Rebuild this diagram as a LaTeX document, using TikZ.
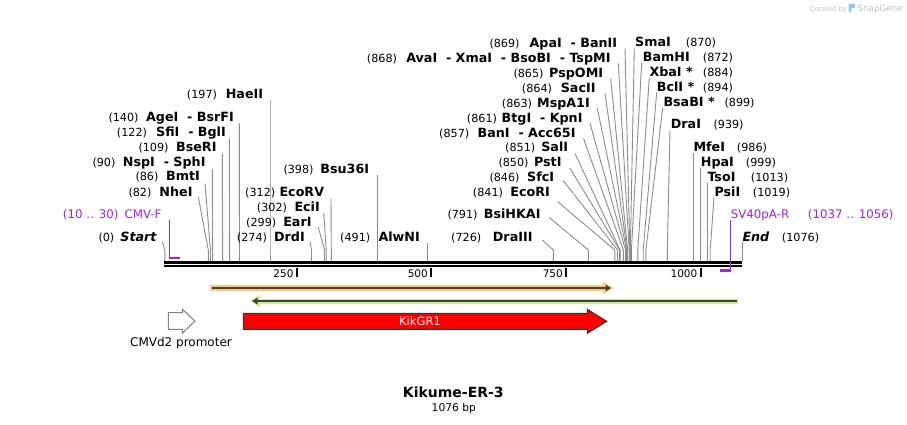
\documentclass[tikz,border=0pt]{standalone}
\usepackage{fontspec}
\setmainfont{DejaVu Sans}
\definecolor{cutgray}{RGB}{140,140,140}
\definecolor{primer}{RGB}{161,33,238}
\definecolor{featorange}{RGB}{255,200,120}
\definecolor{featgreen}{RGB}{200,240,140}
\definecolor{featline}{RGB}{64,64,64}
\definecolor{logogray}{RGB}{195,195,195}
\definecolor{logoblue}{RGB}{150,200,235}
\tikzset{
  numf/.style={inner sep=0pt, font=\fontsize{11.2}{13}\selectfont},
  enzf/.style={inner sep=0pt, font=\fontsize{12.7}{14}\selectfont\bfseries},
  primf/.style={inner sep=0pt, text=primer, font=\fontsize{11.8}{14}\selectfont},
  tickf/.style={inner sep=0pt, font=\fontsize{10.5}{12}\selectfont},
  cutl/.style={draw=cutgray, line width=0.9pt},
  tickl/.style={draw=black, line width=2pt},
  priml/.style={draw=primer, line width=1.3pt},
}
% left-labelled site: id, baseline y, number start x, number, name end x, name
\newcommand\labL[6]{%
  \node[numf, anchor=base west] (#1n) at (#3,#2) {#4};
  \node[enzf, anchor=base east] (#1) at (#5,#2) {#6};}
% right-labelled site: id, baseline y, name start x, name, number start x, number
\newcommand\labR[6]{%
  \node[enzf, anchor=base west] (#1) at (#3,#2) {#4};
  \node[numf, anchor=base west] (#1n) at (#5,#2) {#6};}
% cut line: id, top x, top y, cut x
\newcommand\cutln[4]{%
  \coordinate (#1t) at (#2,#3);
  \coordinate (#1k) at (#4,250);
  \coordinate (#1c) at (#4,261);
  \draw[cutl] (#1t) -- (#1k) -- (#1c);}
\begin{document}
\begin{tikzpicture}[x=1pt,y=-1pt]
\fill[white] (0,0) rectangle (907,424);
\useasboundingbox (0,0) rectangle (907,424);

% SnapGene credit
\node[inner sep=0pt, anchor=base west, text=logogray, font=\fontsize{6.8}{8}\selectfont] (credit) at (809.3,11) {Created by};
\fill[logoblue, rounded corners=0.8pt] (848.5,3.5) rectangle (851.5,12) ;
\fill[logoblue, rounded corners=1pt] (851,3.5) rectangle (855,8);
\node[inner sep=0pt, anchor=base west, text=logogray, font=\fontsize{8.8}{10}\selectfont] (snapg) at (857.3,11.5) {SnapGene};

% cut lines
\cutln{cStart}{162.3}{241.7}{164.8}
\cutln{cNhe}{198.3}{196.7}{208.3}
\cutln{cBmt}{205}{183.3}{210.5}
\cutln{cNsp}{212.3}{169.3}{212.6}
\cutln{cBse}{222.3}{153.3}{222.6}
\cutln{cSfi}{229.3}{138.3}{229.6}
\cutln{cAge}{239.3}{123.3}{239.5}
\cutln{cHae}{270}{100}{270}
\cutln{cDrd}{310}{242}{311.5}
\cutln{cEar}{318.3}{227.3}{324.6}
\cutln{cEci}{323.7}{212.3}{326.2}
\cutln{cEcoRV}{331}{198.3}{331.3}
\cutln{cBsu}{377.3}{175}{377.3}
\cutln{cAlw}{427.7}{242.7}{427.7}
\cutln{cDra3}{542.3}{240}{553.3}
\cutln{cBsi}{549}{217.3}{588.3}
\cutln{cEcoRI}{557.7}{201.7}{614.8}
\cutln{cSfc}{563.3}{180.7}{617.5}
\cutln{cPst}{570}{168.3}{619.6}
\cutln{cSal}{575}{153.5}{620.1}
\cutln{cBan}{583.5}{138.5}{623.4}
\cutln{cBtg}{590}{123.3}{625.5}
\cutln{cMsp}{597.3}{108.3}{626.6}
\cutln{cSac}{605}{93.3}{627.1}
\cutln{cPsp}{610.7}{78.3}{627.6}
\cutln{cAva}{618.3}{63.3}{629.2}
\cutln{cApa}{625}{48.3}{629.8}
\cutln{cSma}{634.3}{48.3}{630.3}
\cutln{cBam}{641.7}{62.8}{631.4}
\cutln{cXba}{649.3}{77.5}{637.8}
\cutln{cBcl}{656.7}{92.5}{643.2}
\cutln{cBsa}{662.7}{107.5}{645.9}
\cutln{cDraI}{670}{130}{667.3}
\cutln{cMfe}{693.3}{153.3}{693.3}
\cutln{cHpa}{700.3}{168.3}{700.3}
\cutln{cTso}{707.7}{183.3}{707.7}
\cutln{cPsi}{714}{197.5}{710.2}
\cutln{cEnd}{742.3}{242.3}{742.3}

% labels, left side
\node[numf, anchor=base west] (startn) at (98.3,241) {(0)};
\node[enzf, anchor=base east, font=\fontsize{12.7}{14}\selectfont\bfseries\itshape] (start) at (156.7,241) {Start};
\node[primf, anchor=base west] (cmvfn) at (62.7,218) {(10 .. 30)};
\node[primf, anchor=base east] (cmvf) at (161.7,218) {CMV-F};
\labL{lNhe}{196}{128.3}{(82)}{192.7}{NheI}
\labL{lBmt}{180.5}{135.3}{(86)}{200}{BmtI}
\labL{lNsp}{166}{92.3}{(90)}{205.7}{NspI\ \ - SphI}
\labL{lBse}{151}{138.3}{(109)}{216.7}{BseRI}
\labL{lSfi}{136}{116.7}{(122)}{226}{SfiI\ \ - BglI}
\labL{lAge}{121}{108.3}{(140)}{234}{AgeI\ \ - BsrFI}
\labL{lHae}{98}{186.7}{(197)}{263.3}{HaeII}
\labL{lDrd}{241}{236.7}{(274)}{305}{DrdI}
\labL{lEar}{226}{246}{(299)}{311.7}{EarI}
\labL{lEci}{211}{256.7}{(302)}{320}{EciI}
\labL{lEcoRV}{196}{245}{(312)}{324.3}{EcoRV}
\labL{lBsu}{173.3}{283.3}{(398)}{369.3}{Bsu36I}
\labL{lAlw}{241}{340}{(491)}{420}{AlwNI}
\labL{lDra3}{241}{451}{(726)}{532.7}{DraIII}
\labL{lBsi}{218}{447.3}{(791)}{540.7}{BsiHKAI}
\labL{lEcoRI}{196}{472.7}{(841)}{550}{EcoRI}
\labL{lSfc}{181}{489.3}{(846)}{554.3}{SfcI}
\labL{lPst}{166}{498.3}{(850)}{561.7}{PstI}
\labL{lSal}{151}{505}{(851)}{568.3}{SalI}
\labL{lBan}{137}{439}{(857)}{575.7}{BanI\ \ - Acc65I}
\labL{lBtg}{122}{466.7}{(861)}{582.7}{BtgI\ \ - KpnI}
\labL{lMsp}{107}{501.7}{(863)}{590}{MspA1I}
\labL{lSac}{92}{521.7}{(864)}{595.7}{SacII}
\labL{lPsp}{77}{513.3}{(865)}{603.3}{PspOMI}
\labL{lAva}{62}{366.7}{(868)}{610.7}{AvaI\ \ - XmaI\ \ - BsoBI\ \ - TspMI}
\labL{lApa}{47}{489.3}{(869)}{617.3}{ApaI\ \ - BanII}

% labels, right side
\labR{lSma}{46.5}{635}{SmaI}{685.7}{(870)}
\labR{lBam}{61}{642.7}{BamHI}{702.7}{(872)}
\labR{lXba}{76}{649.3}{XbaI *}{702.7}{(884)}
\labR{lBcl}{91}{656.7}{BclI *}{702.7}{(894)}
\labR{lBsa}{106}{663.3}{BsaBI *}{724.3}{(899)}
\labR{lDraI}{128}{670.7}{DraI}{713.3}{(939)}
\labR{lMfe}{151}{693.3}{MfeI}{736.7}{(986)}
\labR{lHpa}{166}{700.7}{HpaI}{745.7}{(999)}
\labR{lTso}{181}{707.3}{TsoI}{750.7}{(1013)}
\labR{lPsi}{196}{714.3}{PsiI}{752.7}{(1019)}
\node[primf, anchor=base west] (sv40) at (730.7,218) {SV40pA-R};
\node[primf, anchor=base west] (sv40n) at (807.7,218) {(1037 .. 1056)};
\node[enzf, anchor=base west, font=\fontsize{12.7}{14}\selectfont\bfseries\itshape] (endl) at (742.3,241) {End};
\node[numf, anchor=base west] (endn) at (781.7,241) {(1076)};

% backbone
\coordinate (bbL) at (164.3,262);
\coordinate (bbR) at (742.3,262);
\draw[black, line width=3pt] (bbL) -- (bbR);
\draw[black, line width=2.3pt] (164.3,266.3) -- (742.3,266.3);

% ticks
\foreach \tx/\tl in {296.7/250, 431/500, 566/750, 700.5/1000}{
  \draw[tickl] (\tx,267.5) -- (\tx,276.5);
  \node[tickf, anchor=base east] (tick\tl) at (\tx-3,277.5) {\tl};
}

% primers
\draw[priml] (169.6,220) -- (169.6,257.8);
\draw[primer, line width=2.3pt] (169,257.8) -- (180.3,257.8);
\draw[priml] (730.3,220) -- (730.3,270.5);
\draw[primer, line width=2.3pt] (720,270.5) -- (731,270.5);

% orange feature (forward)
\draw[featorange, line width=5.5pt] (210,288) -- (605,288);
\fill[featorange] (603,281.8) -- (613.5,288) -- (603,294.2) -- cycle;
\draw[featline, line width=1.6pt] (211.5,288) -- (607,288);
\fill[featline] (605.5,284.5) -- (611,288) -- (605.5,291.5) -- cycle;

% green feature (reverse)
\draw[featgreen, line width=5pt] (258,301) -- (738.3,301);
\fill[featgreen] (260,294.8) -- (250.5,301) -- (260,307.2) -- cycle;
\draw[featline, line width=1.6pt] (255,301) -- (737,301);
\fill[featline] (257.5,297.5) -- (252,301) -- (257.5,304.5) -- cycle;

% KikGR1
\draw[fill=red, draw=black!80, line width=1pt]
  (243.3,313.3) -- (587.3,313.3) -- (587.3,309.3) -- (606.7,321.3) -- (587.3,333.3) -- (587.3,329.3) -- (243.3,329.3) -- cycle;
\node[inner sep=0pt, text=white, font=\fontsize{11.5}{13}\selectfont] (kik) at (420,321.3) {KikGR1};

% CMVd2 promoter
\draw[fill=white, draw=gray, line width=1pt]
  (168.3,312.7) -- (182.3,312.7) -- (182.3,309.3) -- (195,321) -- (182.3,333.3) -- (182.3,329.3) -- (168.3,329.3) -- cycle;
\node[inner sep=0pt, anchor=base, font=\fontsize{12}{14}\selectfont] (cmvd2) at (181,346.7) {CMVd2 promoter};

% title
\node[inner sep=0pt, anchor=base, font=\fontsize{14}{16}\selectfont\bfseries] (title) at (453.3,397.7) {Kikume-ER-3};
\node[inner sep=0pt, anchor=base, font=\fontsize{10.7}{12}\selectfont] (size) at (453.8,411) {1076 bp};
\end{tikzpicture}
\end{document}
